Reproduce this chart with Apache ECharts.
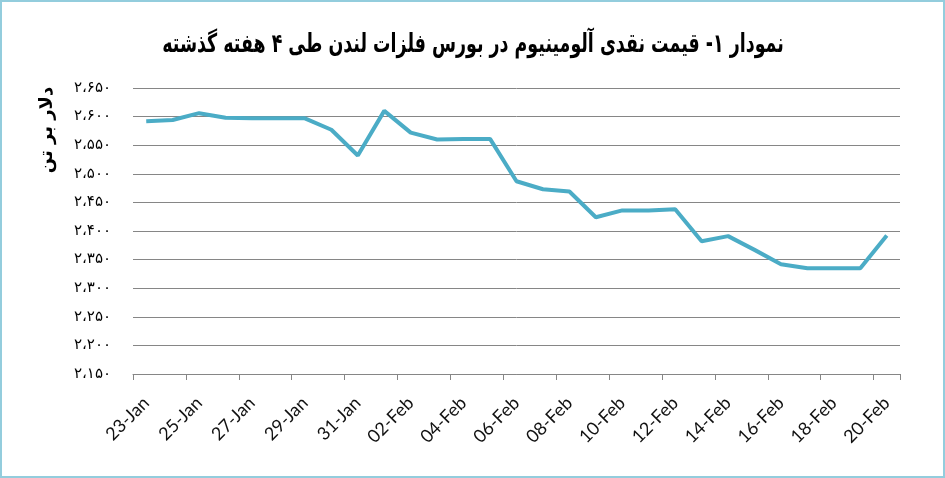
<!DOCTYPE html>
<html>
<head>
<meta charset="utf-8">
<script src="https://cdn.jsdelivr.net/npm/echarts@6/dist/echarts.min.js"></script>
<style>
  html, body { margin: 0; padding: 0; background: #fff; }
  #chart { position: absolute; left: 0; top: 0; width: 945px; height: 478px; }
  #frame { position: absolute; left: 0; top: 0; width: 945px; height: 478px; box-sizing: border-box; border: 2px solid #93CDDD; pointer-events: none; }
</style>
</head>
<body>
<div id="chart"></div>
<div id="frame"></div>
<script>
const titleText = 'نمودار ۱- قیمت نقدی آلومینیوم در بورس فلزات لندن طی ۴ هفته گذشته';
const yAxisName = 'دلار بر تن';
const dates = ['23-Jan','24-Jan','25-Jan','26-Jan','27-Jan','28-Jan','29-Jan','30-Jan','31-Jan',
  '01-Feb','02-Feb','03-Feb','04-Feb','05-Feb','06-Feb','07-Feb','08-Feb','09-Feb','10-Feb',
  '11-Feb','12-Feb','13-Feb','14-Feb','15-Feb','16-Feb','17-Feb','18-Feb','19-Feb','20-Feb'];
const prices = [2592, 2594, 2606, 2598, 2597, 2597, 2597, 2577, 2532,
  2610, 2572, 2560, 2561, 2561, 2487, 2473, 2469, 2424, 2436,
  2436, 2438, 2382, 2391, 2367, 2342, 2335, 2335, 2335, 2392];
const yMin = 2150, yMax = 2650, yStep = 50;

const faDigits = ['۰','۱','۲','۳','۴','۵','۶','۷','۸','۹'];
function toFa(v) {
  const s = String(Math.round(v));
  const withSep = s.length > 3 ? s.slice(0, s.length - 3) + '،' + s.slice(s.length - 3) : s;
  return withSep.replace(/[0-9]/g, d => faDigits[+d]);
}

const chart = echarts.init(document.getElementById('chart'), null, { renderer: 'canvas' });
chart.setOption({
  animation: false,
  backgroundColor: '#ffffff',
  graphic: [{
    type: 'text',
    x: 473, y: 45,
    scaleX: 0.67,
    style: {
      text: titleText,
      fontFamily: 'DejaVu Sans',
      fontWeight: 'bold',
      fontSize: 26,
      fill: '#000',
      align: 'center',
      verticalAlign: 'middle'
    }
  }, {
    type: 'text',
    x: 47, y: 130,
    rotation: Math.PI / 2,
    style: {
      text: yAxisName,
      fontFamily: 'DejaVu Sans',
      fontWeight: 'bold',
      fontSize: 18,
      fill: '#000',
      align: 'center',
      verticalAlign: 'middle'
    }
  }],
  grid: { left: 133, right: 45, top: 88, bottom: 104 },
  xAxis: {
    type: 'category',
    data: dates,
    boundaryGap: true,
    axisLine: { lineStyle: { color: '#868686', width: 1 } },
    axisTick: { show: true, interval: 1, length: 6, lineStyle: { color: '#868686' } },
    axisLabel: { interval: 1, rotate: 45, fontFamily: 'Lato, Open Sans', fontSize: 18, color: '#111', margin: 26 },
    splitLine: { show: false }
  },
  yAxis: {
    type: 'value',
    min: yMin, max: yMax, interval: yStep,
    axisLine: { show: false },
    axisTick: { show: false },
    axisLabel: { formatter: v => toFa(v), fontFamily: 'DejaVu Sans', fontSize: 15, color: '#000', margin: 22 },
    splitLine: { lineStyle: { color: '#868686', width: 1 } }
  },
  series: [{
    type: 'line',
    data: prices,
    symbol: 'none',
    lineStyle: { color: '#4BACC6', width: 4 },
    itemStyle: { color: '#4BACC6' }
  }]
});
</script>
</body>
</html>
